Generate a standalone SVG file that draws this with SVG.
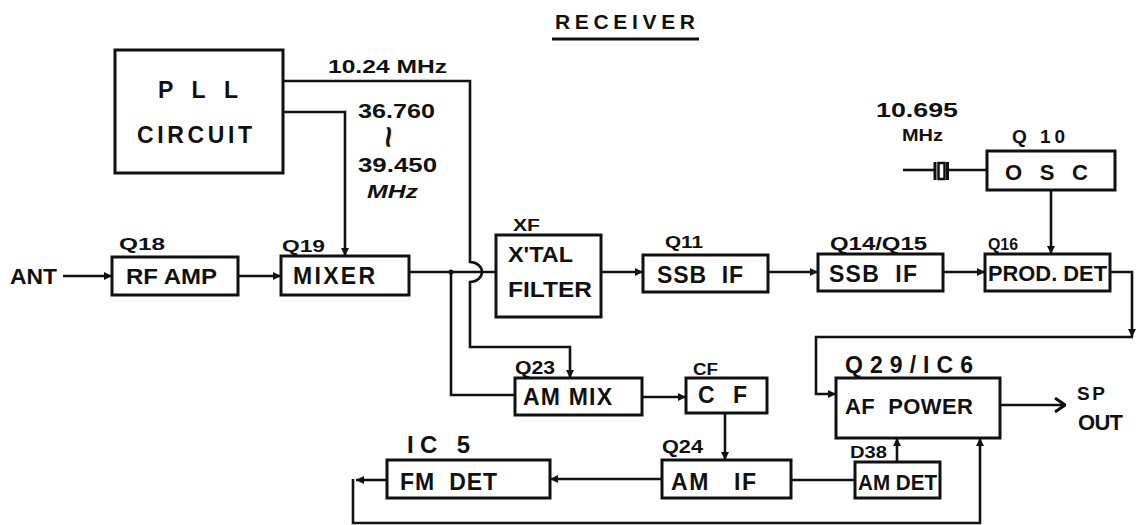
<svg xmlns="http://www.w3.org/2000/svg" width="1139" height="525" viewBox="0 0 1139 525">
<defs>
<style>
.box{fill:none;stroke:#111;stroke-width:3}
.ln{fill:none;stroke:#111;stroke-width:2.6}
text{font-family:"Liberation Sans","DejaVu Sans",sans-serif;font-weight:bold;fill:#111;white-space:pre}
.big{font-size:22px}
.mid{font-size:18px}
.sm{font-size:16px}
</style>
<marker id="arr" viewBox="0 0 10 10" refX="10" refY="5" markerWidth="9" markerHeight="8" markerUnits="userSpaceOnUse" orient="auto"><path d="M0,0 L10,5 L0,10 z" fill="#111"/></marker>
<marker id="open" viewBox="0 0 12 16" refX="11" refY="8" markerWidth="12" markerHeight="16" markerUnits="userSpaceOnUse" orient="auto"><path d="M1,1 L11,8 L1,15" fill="none" stroke="#111" stroke-width="3"/></marker>
</defs>
<rect width="1139" height="525" fill="#fff"/>

<g id="title">
<text x="555" y="29" textLength="140" lengthAdjust="spacing" style="font-size:21px">RECEIVER</text>
<line x1="552" y1="39" x2="699" y2="39" stroke="#111" stroke-width="3"/>
</g>

<g id="pll">
<rect class="box" x="115" y="50" width="168" height="123"/>
<text x="158" y="98" textLength="80" lengthAdjust="spacing" style="font-size:23px">P L L</text>
<text x="137" y="143" textLength="115" lengthAdjust="spacing" style="font-size:23px">CIRCUIT</text>
</g>

<g id="freq-labels">
<text class="mid" x="328" y="73" textLength="119" lengthAdjust="spacingAndGlyphs">10.24 MHz</text>
<text x="358" y="118" textLength="77" lengthAdjust="spacingAndGlyphs" style="font-size:20px">36.760</text>
<text x="0" y="0" transform="translate(389,137) rotate(90) scale(1.6,1.3)" text-anchor="middle" dominant-baseline="central" style="font-size:24px">~</text>
<text x="358" y="172" textLength="79" lengthAdjust="spacingAndGlyphs" style="font-size:20px">39.450</text>
<text class="mid" x="367" y="198" textLength="51" lengthAdjust="spacingAndGlyphs" font-style="italic">MHz</text>
<text x="876" y="117" textLength="82" lengthAdjust="spacingAndGlyphs" style="font-size:20px">10.695</text>
<text class="sm" x="902" y="141" textLength="41" lengthAdjust="spacingAndGlyphs">MHz</text>
</g>

<g id="ant">
<text class="big" x="10" y="284" textLength="47" lengthAdjust="spacingAndGlyphs">ANT</text>
</g>

<g id="rfamp">
<text class="sm" x="119" y="250" textLength="46" lengthAdjust="spacingAndGlyphs">Q18</text>
<rect class="box" x="112" y="257" width="126" height="38"/>
<text class="big" x="126" y="284" textLength="91" lengthAdjust="spacingAndGlyphs">RF AMP</text>
</g>

<g id="mixer">
<text class="sm" x="282" y="252" textLength="43" lengthAdjust="spacingAndGlyphs">Q19</text>
<rect class="box" x="281" y="256" width="128" height="39"/>
<text x="293" y="284" textLength="82" lengthAdjust="spacing" style="font-size:23px">MIXER</text>
</g>

<g id="xf">
<text class="sm" x="513" y="231" textLength="27" lengthAdjust="spacingAndGlyphs">XF</text>
<rect class="box" x="496" y="235" width="105" height="82"/>
<text class="big" x="508" y="262" textLength="65" lengthAdjust="spacingAndGlyphs">X'TAL</text>
<text class="big" x="508" y="297" textLength="84" lengthAdjust="spacingAndGlyphs">FILTER</text>
</g>

<g id="ssbif1">
<text class="sm" x="665" y="248" textLength="38" lengthAdjust="spacingAndGlyphs">Q11</text>
<rect class="box" x="643" y="255" width="125" height="37"/>
<text x="657" y="283" textLength="86" lengthAdjust="spacing" style="font-size:23px">SSB  IF</text>
</g>

<g id="ssbif2">
<text class="mid" x="830" y="250" textLength="97" lengthAdjust="spacingAndGlyphs">Q14/Q15</text>
<rect class="box" x="818" y="254" width="125" height="37"/>
<text x="829" y="282" textLength="88" lengthAdjust="spacing" style="font-size:23px">SSB  IF</text>
</g>

<g id="osc">
<text x="1012" y="143" textLength="53" lengthAdjust="spacing" style="font-size:19px">Q 10</text>
<rect class="box" x="987" y="151" width="128" height="39"/>
<text x="1005" y="180" textLength="83" lengthAdjust="spacing" style="font-size:22px">O S C</text>
</g>

<g id="crystal">
<line class="ln" x1="903" y1="170" x2="935" y2="170"/>
<line x1="935" y1="162" x2="935" y2="180" stroke="#111" stroke-width="3"/>
<rect x="938.5" y="163" width="6" height="16" fill="none" stroke="#111" stroke-width="2.5"/>
<line x1="947.5" y1="162" x2="947.5" y2="180" stroke="#111" stroke-width="3"/>
<line class="ln" x1="948" y1="170" x2="987" y2="170"/>
</g>

<g id="proddet">
<text class="sm" x="988" y="250" textLength="30" lengthAdjust="spacingAndGlyphs">Q16</text>
<rect class="box" x="985" y="254" width="125" height="37"/>
<text class="big" x="988" y="281" textLength="119" lengthAdjust="spacingAndGlyphs">PROD. DET</text>
</g>

<g id="ammix">
<text class="mid" x="515" y="374" textLength="40" lengthAdjust="spacingAndGlyphs">Q23</text>
<rect class="box" x="515" y="378" width="127" height="37"/>
<text x="523" y="405" textLength="89" lengthAdjust="spacing" style="font-size:23px">AM MIX</text>
</g>

<g id="cf">
<text class="sm" x="693" y="375" textLength="25" lengthAdjust="spacingAndGlyphs">CF</text>
<rect class="box" x="686" y="378" width="81" height="35"/>
<text x="698" y="403" textLength="49" lengthAdjust="spacing" style="font-size:23px">C  F</text>
</g>

<g id="afpower">
<text x="845" y="373" textLength="128" lengthAdjust="spacing" style="font-size:23px">Q29/IC6</text>
<rect class="box" x="836" y="378" width="164" height="60"/>
<text x="845" y="414" textLength="128" lengthAdjust="spacing" style="font-size:22px">AF  POWER</text>
</g>

<g id="spout">
<text x="1077" y="400" textLength="28" lengthAdjust="spacing" style="font-size:19px">SP</text>
<text class="big" x="1078" y="430" textLength="45" lengthAdjust="spacing">OUT</text>
</g>

<g id="amif">
<text class="mid" x="662" y="453" textLength="41" lengthAdjust="spacingAndGlyphs">Q24</text>
<rect class="box" x="662" y="460" width="129" height="38"/>
<text x="671" y="490" textLength="85" lengthAdjust="spacing" style="font-size:23px">AM   IF</text>
</g>

<g id="amdet">
<text class="sm" x="850" y="458" textLength="37" lengthAdjust="spacingAndGlyphs">D38</text>
<rect class="box" x="855" y="462" width="85" height="36"/>
<text class="big" x="858" y="490" textLength="79" lengthAdjust="spacingAndGlyphs">AM DET</text>
</g>

<g id="fmdet">
<text x="407" y="453" textLength="63" lengthAdjust="spacing" style="font-size:24px">IC 5</text>
<rect class="box" x="387" y="460" width="163" height="38"/>
<text x="400" y="490" textLength="97" lengthAdjust="spacing" style="font-size:23px">FM  DET</text>
</g>

<g id="connectors">
<path class="ln" d="M63,276 H112" marker-end="url(#arr)"/>
<path class="ln" d="M238,276 H281" marker-end="url(#arr)"/>
<path class="ln" d="M283,112 H345 V256" marker-end="url(#arr)"/>
<path class="ln" d="M283,81 H470 V262 A12,10 0 0 1 470,282 V347 H570 V378" marker-end="url(#arr)"/>
<path class="ln" d="M409,272 H496"/>
<path class="ln" d="M451,272 V395 H515"/>
<circle cx="451" cy="272" r="2.5" fill="#111"/>
<path class="ln" d="M601,272 H643" marker-end="url(#arr)"/>
<path class="ln" d="M768,272 H818" marker-end="url(#arr)"/>
<path class="ln" d="M943,272 H985" marker-end="url(#arr)"/>
<path class="ln" d="M1051,190 V254" marker-end="url(#arr)"/>
<path class="ln" d="M1110,272 H1132 V337" marker-end="url(#arr)"/>
<path class="ln" d="M1133,337 H816 V394 H836" marker-end="url(#arr)"/>
<path class="ln" d="M1000,405 H1065" marker-end="url(#open)"/>
<path class="ln" d="M642,397 H686" marker-end="url(#arr)"/>
<path class="ln" d="M725,413 V460" marker-end="url(#arr)"/>
<path class="ln" d="M791,480 H855"/>
<path class="ln" d="M662,479 H550" marker-end="url(#arr)"/>
<path class="ln" d="M897,462 V438" marker-end="url(#arr)"/>
<path class="ln" d="M387,480 H356" marker-end="url(#arr)"/>
<path class="ln" d="M353,479 V523 H980 V438" marker-end="url(#arr)"/>
</g>
</svg>
